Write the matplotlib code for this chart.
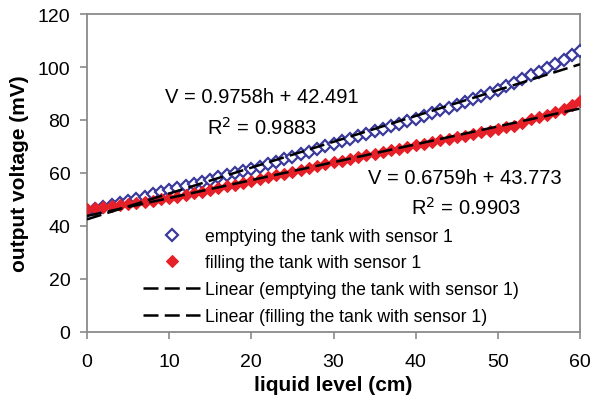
import numpy as np
import matplotlib.pyplot as plt

plt.rcParams['font.family'] = ['Liberation Sans', 'DejaVu Sans']

# liquid level (cm), one reading per cm
level = np.arange(0, 61)

# output voltage (mV) while emptying the tank
emptying = [45.5, 46.3, 47.1, 47.9, 48.7, 49.5, 50.3, 51.1, 51.9, 52.7, 53.5,
            54.3, 55.1, 55.9, 56.7, 57.5, 58.3, 59.1, 59.9, 60.7, 61.5,
            62.4, 63.3, 64.3, 65.2, 66.2, 67.1, 68.1, 69.0, 70.0, 71.0,
            71.9, 72.9, 73.8, 74.8, 75.7, 76.7, 77.6, 78.6, 79.5, 80.5,
            81.5, 82.5, 83.6, 84.6, 85.7, 86.7, 87.8, 89.0, 90.2, 91.5,
            92.8, 94.1, 95.4, 96.8, 98.2, 99.7, 101.2, 102.8, 104.4, 106.0]

# output voltage (mV) while filling the tank
filling = [46.5, 46.8, 47.2, 47.5, 47.9, 48.3, 48.7, 49.1, 49.6, 50.0, 50.5,
           51.1, 51.7, 52.3, 52.9, 53.6, 54.2, 54.9, 55.6, 56.3, 57.0,
           57.7, 58.4, 59.1, 59.8, 60.5, 61.2, 61.9, 62.6, 63.3, 64.0,
           64.6, 65.3, 65.9, 66.6, 67.2, 67.9, 68.5, 69.2, 69.8, 70.5,
           71.1, 71.7, 72.3, 72.9, 73.5, 74.1, 74.7, 75.3, 75.9, 76.5,
           77.2, 77.9, 78.8, 80.2, 81.2, 82.0, 83.0, 84.2, 85.5, 87.0]

# linear trend lines from the chart: slope, intercept, R^2
fit_empty = (0.9758, 42.491, 0.9883)
fit_fill = (0.6759, 43.773, 0.9903)

fig = plt.figure(figsize=(6.06, 4.06), dpi=100)
ax = fig.add_axes([0.1436, 0.180, 0.8135, 0.783])

ax.plot(level, emptying, linestyle='none', marker='D', ms=6,
        mfc='white', mec='#3a3a9c', mew=1.6,
        label='emptying the tank with sensor 1', zorder=3)
ax.plot(level, filling, linestyle='none', marker='D', ms=6,
        mfc='#e62028', mec='#e62028', mew=0.8,
        label='filling the tank with sensor 1', zorder=3)

xl = np.array([level[0], level[-1]])
ax.plot(xl, fit_empty[0] * xl + fit_empty[1], color='black', lw=1.8,
        dashes=(6, 2.5), label='Linear (emptying the tank with sensor 1)', zorder=4)
ax.plot(xl, fit_fill[0] * xl + fit_fill[1], color='black', lw=1.8,
        dashes=(6, 2.5), label='Linear (filling the tank with sensor 1)', zorder=4)

ax.text(0.355, 0.739, 'V = %.4fh + %.3f' % fit_empty[:2], transform=ax.transAxes,
        ha='center', va='center', fontsize=14.5)
ax.text(0.355, 0.645, 'R$^2$ = %.4f' % fit_empty[2], transform=ax.transAxes,
        ha='center', va='center', fontsize=14.5)
ax.text(0.767, 0.487, 'V = %.4fh + %.3f' % fit_fill[:2], transform=ax.transAxes,
        ha='center', va='center', fontsize=14.5)
ax.text(0.769, 0.393, 'R$^2$ = %.4f' % fit_fill[2], transform=ax.transAxes,
        ha='center', va='center', fontsize=14.5)

ax.set_xlim(0, 60)
ax.set_ylim(0, 120)
ax.set_xticks(range(0, 61, 10))
ax.set_yticks(range(0, 121, 20))
ax.set_xlabel('liquid level (cm)', fontsize=15, fontweight='bold', labelpad=4)
ax.set_ylabel('output voltage (mV)', fontsize=15, fontweight='bold', labelpad=6)
ax.tick_params(axis='x', pad=10)

for s in ax.spines.values():
    s.set_color('#8a8a8a')
    s.set_linewidth(1.3)
ax.tick_params(direction='out', length=5, width=1.2, color='#8a8a8a',
               labelsize=14)
ax.tick_params(axis='y', pad=7)

ax.legend(loc='lower left', bbox_to_anchor=(0.10, 0.0), frameon=False,
          fontsize=12.7, handlelength=3.2, handletextpad=0.3,
          labelspacing=0.55, numpoints=1, borderaxespad=0.0)

fig.savefig('out.png', dpi=100)
